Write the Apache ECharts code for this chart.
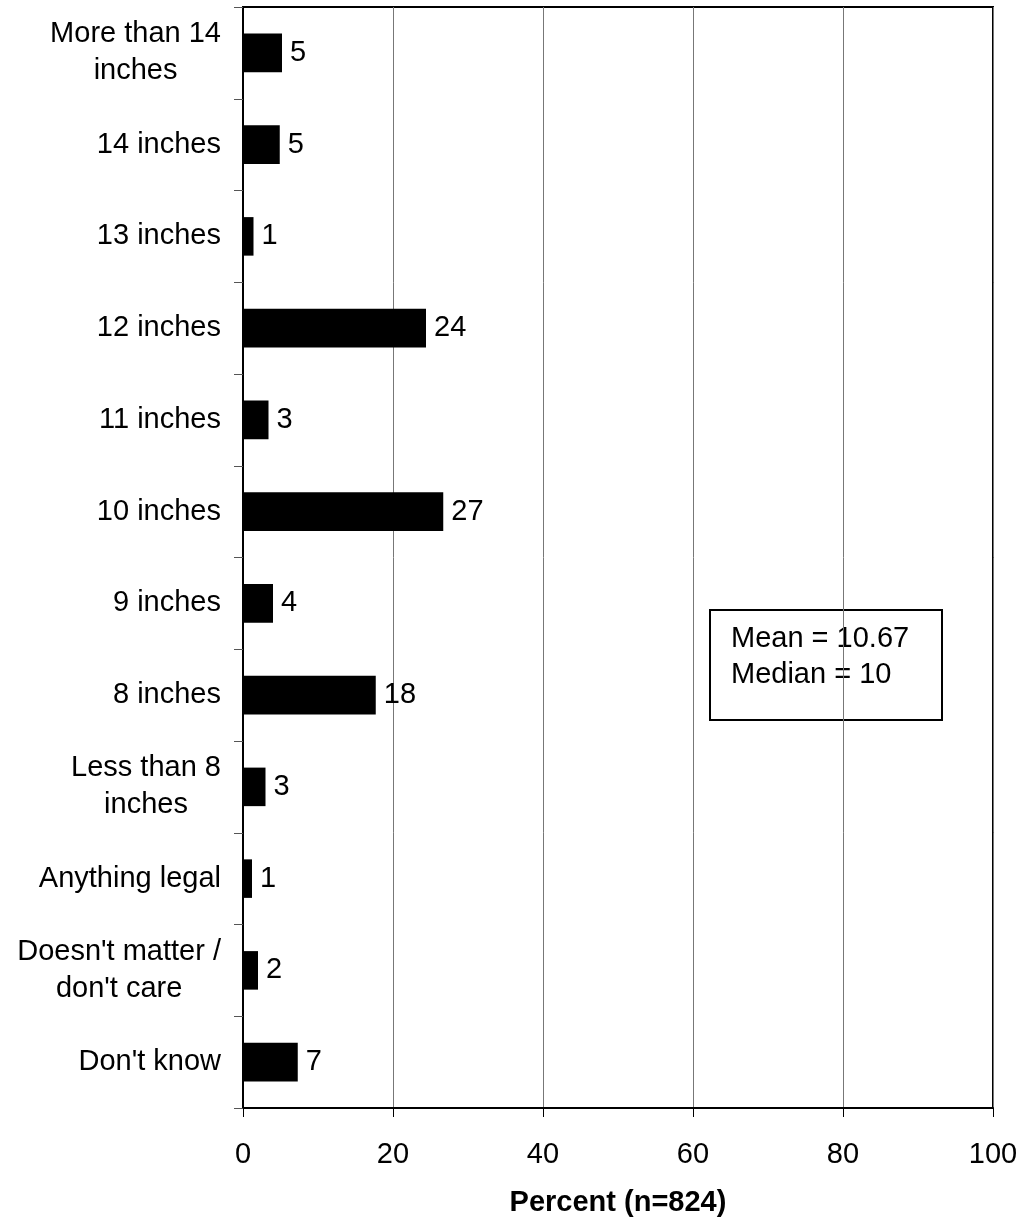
<!DOCTYPE html>
<html>
<head>
<meta charset="utf-8">
<script src="https://cdn.jsdelivr.net/npm/echarts@6/dist/echarts.min.js"></script>
<style>
html,body{margin:0;padding:0;background:#fff;}
#chart{width:1023px;height:1218px;}
</style>
</head>
<body>
<div id="chart"></div>
<script>
const categories = [
  "More than 14\ninches",
  "14 inches",
  "13 inches",
  "12 inches",
  "11 inches",
  "10 inches",
  "9 inches",
  "8 inches",
  "Less than 8\ninches",
  "Anything legal",
  "Doesn't matter /\ndon't care",
  "Don't know"
];
const percents = [5.2, 4.9, 1.4, 24.4, 3.4, 26.7, 4.0, 17.7, 3.0, 1.2, 2.0, 7.3];
const valueLabels = ["5", "5", "1", "24", "3", "27", "4", "18", "3", "1", "2", "7"];
const xTicks = [0, 20, 40, 60, 80, 100];
const axisTitle = "Percent (n=824)";
const statsLines = ["Mean = 10.67", "Median = 10"];

const FONT = "'Liberation Sans', Arial, sans-serif";
const FS = 29;
const chart = echarts.init(document.getElementById('chart'), null, {renderer: 'canvas'});

chart.setOption({
  animation: false,
  backgroundColor: '#fff',
  grid: {
    left: 243, right: 30, top: 7, bottom: 110,
    containLabel: false, outerBoundsMode: 'none',
    show: true, borderColor: '#000', borderWidth: 2, backgroundColor: 'transparent'
  },
  xAxis: {
    type: 'value',
    min: xTicks[0], max: xTicks[xTicks.length - 1], interval: 20,
    name: axisTitle, nameLocation: 'middle', nameGap: 80,
    nameTextStyle: {fontFamily: FONT, fontSize: FS, fontWeight: 'bold', color: '#000'},
    axisLine: {show: true, lineStyle: {color: '#000', width: 2}},
    axisTick: {show: true, length: 9, lineStyle: {color: '#000', width: 1}},
    axisLabel: {fontFamily: FONT, fontSize: FS, color: '#000', margin: 32},
    splitLine: {show: true, lineStyle: {color: '#777', width: 1}}
  },
  yAxis: {
    type: 'category',
    data: categories,
    inverse: true,
    axisLine: {show: true, lineStyle: {color: '#000', width: 2}},
    axisTick: {show: true, length: 9, lineStyle: {color: '#555', width: 1}},
    axisLabel: {
      fontFamily: FONT, fontSize: FS, color: '#000', margin: 22, lineHeight: 37,
      formatter: function (v) { return v.split('\n').map(l => '{c|' + l + '}').join('\n'); },
      rich: {c: {align: 'center', fontFamily: FONT, fontSize: FS, lineHeight: 37, color: '#000'}}
    },
    splitLine: {show: false}
  },
  series: [{
    type: 'bar',
    data: percents,
    barWidth: '42%',
    itemStyle: {color: '#000'},
    label: {
      show: true, position: 'right', distance: 8,
      fontFamily: FONT, fontSize: FS, color: '#000',
      formatter: function (p) { return valueLabels[p.dataIndex]; }
    }
  }],
  graphic: [{
    type: 'group', left: 709, top: 609,
    children: [
      {type: 'rect', shape: {x: 0, y: 0, width: 232, height: 110},
       style: {fill: '#fff', stroke: '#000', lineWidth: 2}},
      {type: 'text', x: 21, y: 11,
       style: {text: statsLines.join('\n'), fontFamily: FONT, fontSize: FS, lineHeight: 36, fill: '#000'}}
    ]
  }]
});
</script>
</body>
</html>
